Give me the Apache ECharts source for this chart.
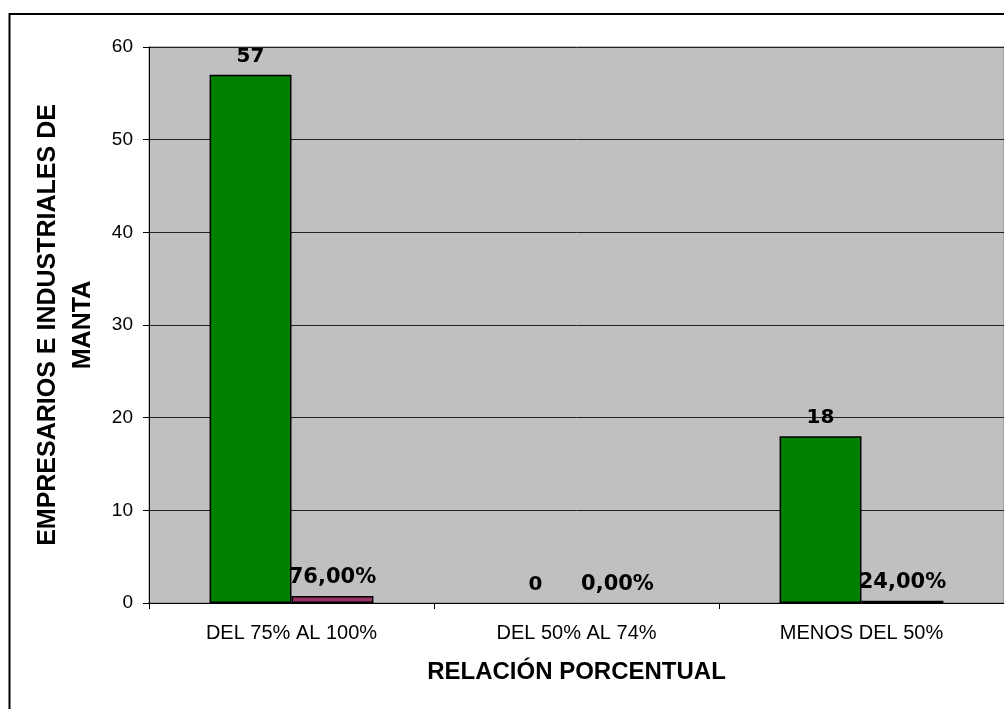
<!DOCTYPE html>
<html>
<head>
<meta charset="utf-8">
<script src="https://cdn.jsdelivr.net/npm/echarts@6/dist/echarts.min.js"></script>
<style>
  html, body { margin: 0; padding: 0; background: #fff; }
  #chart { width: 1004px; height: 709px; }
</style>
</head>
<body>
<div id="chart"></div>
<script>
// Categories and series values
const categories = ['DEL 75% AL 100%', 'DEL 50% AL 74%', 'MENOS DEL 50%'];
const empresarios = [57, 0, 18];          // number of respondents
const porcentaje = [0.76, 0, 0.24];       // share of respondents (fraction)
const yAxisMin = 0, yAxisMax = 60, yAxisStep = 10;

const fmtPct = v => (v * 100).toFixed(2).replace('.', ',') + '%';
// zero-height bars get no outline so nothing shows for them
const asBarData = arr => arr.map(v => (v === 0 ? { value: v, itemStyle: { borderWidth: 0 } } : v));

const chart = echarts.init(document.getElementById('chart'), null, { renderer: 'canvas' });

chart.setOption({
  animation: false,
  backgroundColor: '#ffffff',
  graphic: [{
    type: 'rect',
    shape: { x: 9.5, y: 14, width: 1020, height: 720 },
    style: { fill: 'none', stroke: '#000', lineWidth: 2 },
    silent: true,
    z: 0
  }],
  grid: {
    left: 149, top: 47, right: -1, bottom: 106,
    show: true,
    backgroundColor: '#C0C0C0',
    borderColor: '#808080',
    borderWidth: 1
  },
  xAxis: {
    type: 'category',
    data: categories,
    name: 'RELACIÓN PORCENTUAL',
    nameLocation: 'middle',
    nameGap: 57,
    nameTextStyle: { fontFamily: 'Liberation Sans', fontWeight: 'bold', fontSize: 24, color: '#000' },
    axisLine: { lineStyle: { color: '#000', width: 1 } },
    axisTick: { show: true, alignWithLabel: false, length: 6, lineStyle: { color: '#000' } },
    axisLabel: { fontFamily: 'Liberation Sans', fontSize: 20, color: '#000', margin: 20 },
    splitLine: { show: false }
  },
  yAxis: {
    type: 'value',
    min: yAxisMin, max: yAxisMax, interval: yAxisStep,
    name: 'EMPRESARIOS E INDUSTRIALES DE\nMANTA',
    nameLocation: 'middle',
    nameRotate: 90,
    nameGap: 48,
    nameTextStyle: { fontFamily: 'Liberation Sans', fontWeight: 'bold', fontSize: 25, color: '#000', lineHeight: 35, align: 'center' },
    axisLine: { show: true, lineStyle: { color: '#000', width: 1 } },
    axisTick: { show: true, length: 6, lineStyle: { color: '#000' } },
    axisLabel: { fontFamily: 'Liberation Sans', fontSize: 19, color: '#000', margin: 16 },
    splitLine: { show: true, lineStyle: { color: '#222', width: 1 } }
  },
  series: [
    {
      name: 'Empresarios',
      type: 'bar',
      data: asBarData(empresarios),
      barGap: '0%',
      barCategoryGap: '42.5%',
      itemStyle: { color: '#008000', borderColor: '#000', borderWidth: 1.5 },
      label: {
        show: true, position: 'top', distance: 8,
        fontFamily: 'DejaVu Sans', fontWeight: 'bold', fontSize: 20, color: '#000'
      }
    },
    {
      name: 'Porcentaje',
      type: 'bar',
      data: asBarData(porcentaje),
      barGap: '0%',
      barCategoryGap: '42.5%',
      itemStyle: { color: '#993366', borderColor: '#000', borderWidth: 1.5 },
      label: {
        show: true, position: 'top', distance: 8,
        fontFamily: 'DejaVu Sans', fontWeight: 'bold', fontSize: 21, color: '#000',
        formatter: p => fmtPct(p.value)
      }
    }
  ]
});
</script>
</body>
</html>
